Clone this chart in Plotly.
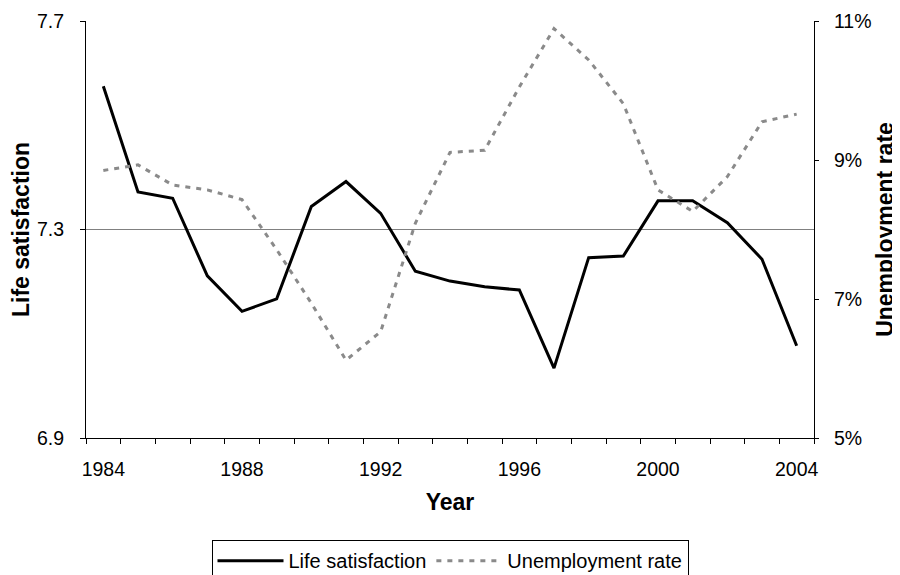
import plotly.graph_objects as go

years = list(range(1984, 2005))
life_satisfaction = [7.575, 7.372, 7.360, 7.211, 7.143, 7.167, 7.344, 7.392, 7.331, 7.220,
                     7.201, 7.190, 7.184, 7.034, 7.246, 7.249, 7.355, 7.355, 7.313, 7.243, 7.077]
unemployment = [8.85, 8.93, 8.64, 8.57, 8.43, 7.71, 6.94, 6.12, 6.53, 8.09,
                9.11, 9.14, 10.05, 10.89, 10.44, 9.81, 8.57, 8.26, 8.76, 9.55, 9.66]
x_label_years = [1984, 1988, 1992, 1996, 2000, 2004]
left_ticks = [6.9, 7.3, 7.7]
right_ticks = [5, 7, 9, 11]

FONT = "Liberation Sans, Arial, sans-serif"
FS = 19.5

fig = go.Figure()
fig.add_trace(go.Scatter(x=years, y=life_satisfaction, mode="lines", name="Life satisfaction",
                         line=dict(color="black", width=3), yaxis="y"))
fig.add_trace(go.Scatter(x=years, y=unemployment, mode="lines", name="Unemployment rate",
                         line=dict(color="#8a8a8a", width=3, dash="5px,6px"), yaxis="y2"))

boundaries = [y - 0.5 for y in years] + [years[-1] + 0.5]

fig.update_layout(
    width=900, height=575,
    margin=dict(l=78, r=94, t=13, b=145, autoexpand=False),
    paper_bgcolor="white", plot_bgcolor="white",
    font=dict(family=FONT, size=FS, color="black"),
    showlegend=True,
    legend=dict(orientation="h", x=0.5, xanchor="center", y=-0.245, yanchor="top",
                bordercolor="black", borderwidth=1, font=dict(size=FS + 0.5),
                itemwidth=66, tracegroupgap=0),
    xaxis=dict(range=[1983.5, 2004.5], tickvals=x_label_years, ticks="", automargin=False,
               showline=True, linecolor="black", linewidth=1, showgrid=False, zeroline=False,
               ticklabelstandoff=14,
               minor=dict(tickvals=boundaries, ticks="outside", ticklen=5, tickcolor="black",
                          tickwidth=1, showgrid=False),
               title=dict(text="<b>Year</b>", standoff=14)),
    yaxis=dict(range=[6.9, 7.7], tickvals=left_ticks, ticktext=["%.1f" % v for v in left_ticks],
               ticks="outside", ticklen=5, tickcolor="black", showline=True, linecolor="black",
               linewidth=1, showgrid=True, gridcolor="#808080", gridwidth=1, zeroline=False,
               ticklabelstandoff=12, automargin=False,
               title=dict(text="<b>Life satisfaction</b>", standoff=4)),
    yaxis2=dict(range=[5, 11], tickvals=right_ticks, ticktext=["%d%%" % v for v in right_ticks],
                overlaying="y", side="right", automargin=False,
                ticks="outside", ticklen=4, tickcolor="black", showline=True, linecolor="black",
                linewidth=1, showgrid=False, zeroline=False, ticklabelstandoff=11,
                title=dict(text="<b>Unemployment rate</b>", standoff=6)),
    yaxis3=dict(range=[5, 11], tickvals=right_ticks, overlaying="y", side="right",
                ticks="inside", ticklen=4, tickcolor="black", showline=False, automargin=False,
                showticklabels=False, showgrid=False, zeroline=False),
)

fig.write_html("out.html")
